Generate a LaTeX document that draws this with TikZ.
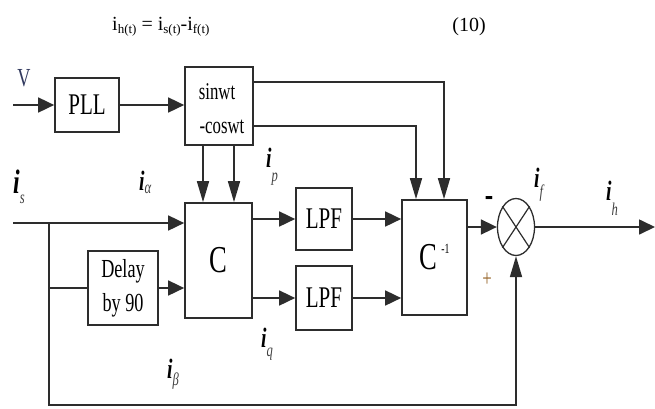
\documentclass[tikz,border=0pt]{standalone}
\usepackage{fontspec}
\setmainfont{Liberation Serif}
\newfontfamily\figfont[FakeStretch=0.7]{Liberation Serif}
\usetikzlibrary{arrows.meta,shapes.geometric}

\definecolor{linegray}{RGB}{45,45,45}
\definecolor{vblue}{RGB}{50,58,95}
\definecolor{plusorange}{RGB}{150,100,40}

\newcommand{\fsz}[1]{\fontsize{#1}{#1}\selectfont}
\newcommand{\cur}[2][-10pt]{\textbf{\textit{i}}\raisebox{#1}{\fsz{18}\color{black!75}\textit{#2}}}
\newcommand{\eqsub}[1]{\raisebox{-3pt}{\fsz{13}#1}}

\tikzset{
  blk/.style={draw=linegray, line width=1.7pt, inner sep=0pt, font=\figfont\fsz{30}},
  conn/.style={draw=linegray, line width=1.7pt},
  harr/.style={-{Triangle[length=16pt,width=15pt]}},
  varr/.style={-{Triangle[length=21pt,width=12pt]}},
  lbl/.style={font=\figfont\fsz{28}, inner sep=0pt, anchor=base west},
}

\begin{document}
\begin{tikzpicture}[x=1pt,y=-1pt]
\useasboundingbox (0,0) rectangle (655,408);

% Ecuacion
\node[anchor=base west, inner sep=0pt, font=\fsz{20}] (eq) at (112,30) {i\eqsub{h(t)} = i\eqsub{s(t)}-i\eqsub{f(t)}};
\node[anchor=base east, inner sep=0pt, font=\fsz{20}] (eqno) at (486,31) {(10)};

% Bloques
\node[blk, minimum width=64, minimum height=54] (pll) at (87,105) {PLL};
\node[blk, minimum width=68, minimum height=78] (trig) at (219,106) {};
\node[font=\figfont\fsz{24}, inner sep=0pt] (sinw) at (217,92) {sinwt};
\node[font=\figfont\fsz{24}, inner sep=0pt] (cosw) at (222,127) {-coswt};
\node[blk, minimum width=67, minimum height=115, font=\figfont\fsz{38}] (conv) at (218.5,260.5) {C};
\node[blk, minimum width=70, minimum height=74, align=center, font=\figfont\fontsize{26}{34}\selectfont] (delay) at (123,288) {Delay\\by 90};
\node[blk, minimum width=56, minimum height=62] (lpfp) at (324,219) {LPF};
\node[blk, minimum width=56, minimum height=64] (lpfq) at (324,298) {LPF};
\node[blk, minimum width=65, minimum height=115, font=\figfont\fsz{38}] (inv) at (434.5,257.5) {C\hspace{4pt}\raisebox{16pt}{\fsz{14}-1}};
\node[draw=linegray, line width=1.3pt, ellipse, minimum width=37, minimum height=57, inner sep=0pt] (sum) at (516,227) {};
\draw[linegray, line width=1.2pt] (sum.north west) -- (sum.south east) (sum.north east) -- (sum.south west);

\coordinate (vin) at (13,105);
\coordinate (isin) at (13,223);
\coordinate (jn) at (49,223);
\coordinate (fb) at (49,405);
\coordinate (out) at (655,227);

% Conexiones
\draw[conn, harr] (vin) -- (pll.west);
\draw[conn, harr] (pll.east) -- (pll.east -| trig.west);
\draw[conn, varr] ([yshift=24]trig.east) -| ([xshift=9.5]inv.north);
\draw[conn, varr] ([yshift=-20]trig.east) -| ([xshift=-18.5]inv.north);
\foreach \dx in {-16,15}
	\draw[conn, varr] ([xshift=\dx]trig.south) -- ([xshift=\dx]trig.south |- conv.north);
\draw[conn, harr] (isin) -- (isin -| conv.west);
\draw[conn] (jn |- delay) -- (delay.west);
\draw[conn, harr] (delay.east) -- (delay.east -| conv.west);
\draw[conn, harr] (conv.east |- lpfp) -- (lpfp.west);
\draw[conn, harr] (conv.east |- lpfq) -- (lpfq.west);
\draw[conn, harr] (lpfp.east) -- (lpfp.east -| inv.west);
\draw[conn, harr] (lpfq.east) -- (lpfq.east -| inv.west);
\draw[conn, harr] (inv.east |- sum) -- (sum.west);
\draw[conn, harr] (sum.east) -- (out);
\draw[conn, varr] (jn) -- (fb) -| (sum.south);

% Etiquetas
\node[lbl, anchor=center, font=\figfont\fsz{26}, text=vblue] (vlbl) at (24,78) {V};
\node[font=\figfont\fsz{36}\bfseries, inner sep=0pt] (minus) at (489,201) {-};
\node[font=\figfont\fsz{24}, text=plusorange, inner sep=0pt] (plus) at (487,280) {+};
\node[lbl, font=\figfont\fsz{34}] (lis) at (13,193) {\cur{s}};
\node[lbl] (lia) at (139,190) {\cur[-3pt]{α}};
\node[lbl] (lip) at (266,167) {\cur[-14pt]{p}};
\node[lbl] (liq) at (261,347) {\cur[-9pt]{q}};
\node[lbl] (lib) at (167,378) {\cur[-7pt]{β}};
\node[lbl] (lif) at (534,187) {\cur[-10pt]{f}};
\node[lbl] (lih) at (606,200) {\cur[-15pt]{h}};
\end{tikzpicture}
\end{document}
